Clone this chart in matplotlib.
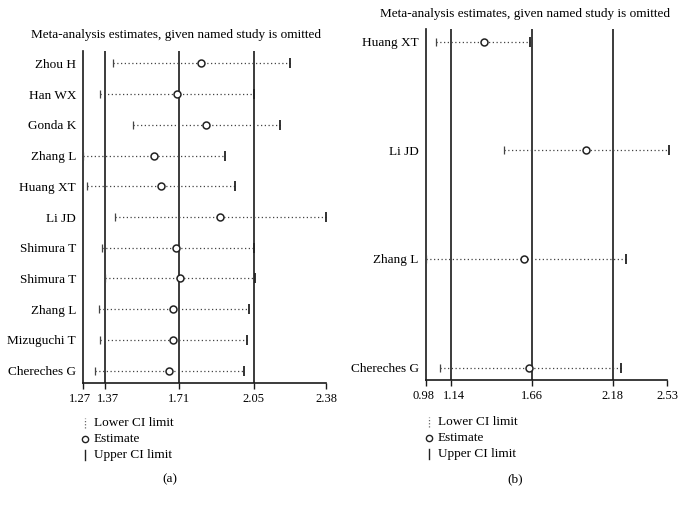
import matplotlib
matplotlib.use("Agg")
import matplotlib.pyplot as plt
from matplotlib.lines import Line2D
from matplotlib.transforms import ScaledTranslation

plt.rcParams['font.family'] = ['Liberation Serif', 'DejaVu Serif']

# ---- Panel (a) data ----
studies_a = ["Zhou H", "Han WX", "Gonda K", "Zhang L", "Huang XT", "Li JD",
             "Shimura T", "Shimura T", "Zhang L", "Mizuguchi T", "Chereches G"]
lower_a = [1.407, 1.346, 1.497, 1.270, 1.288, 1.415, 1.355, 1.372, 1.343, 1.349, 1.325]
est_a = [1.808, 1.698, 1.832, 1.594, 1.625, 1.894, 1.695, 1.713, 1.680, 1.681, 1.663]
upper_a = [2.214, 2.051, 2.170, 1.920, 1.966, 2.381, 2.051, 2.057, 2.030, 2.018, 2.004]
ticks_a = [1.27, 1.37, 1.71, 2.05, 2.38]
ref_a = [1.37, 1.71, 2.05]

# ---- Panel (b) data ----
studies_b = ["Huang XT", "Li JD", "Zhang L", "Chereches G"]
lower_b = [1.048, 1.484, 0.980, 1.070]
est_b = [1.352, 2.010, 1.609, 1.641]
upper_b = [1.651, 2.541, 2.263, 2.235]
ticks_b = [0.98, 1.14, 1.66, 2.18, 2.53]
ref_b = [1.14, 1.66, 2.18]

title = "Meta-analysis estimates, given named study is omitted"
FS = 9.5
TFS = 9.0
LC = '#1a1a1a'

W, H = 686, 507
fig = plt.figure(figsize=(W / 100, H / 100), dpi=100)


def px_axes(x0, y0, x1, y1):
    return fig.add_axes([x0 / W, 1 - y1 / H, (x1 - x0) / W, (y1 - y0) / H])


def draw_panel(ax, studies, lower, est, upper, ticks, refs, pad, shifts):
    n = len(studies)
    ys = list(range(n))
    for y, lo, e, up in zip(ys, lower, est, upper):
        ax.plot([lo, up], [y, y], linestyle=(0, (1, 2)), color='#444444', lw=0.9,
                clip_on=False, zorder=2)
        ax.plot([lo], [y], marker='|', color='#444444', ms=6, mew=0.9,
                clip_on=False, zorder=3)
        ax.plot([up], [y], marker='|', color='#222222', ms=6.5, mew=1.3,
                clip_on=False, zorder=3)
        ax.plot([e], [y], marker='o', mfc='white', mec='#222222', ms=5, mew=1.1,
                clip_on=False, zorder=4)
    for r in refs:
        ax.axvline(r, color=LC, lw=1.2, zorder=1)
    ax.set_xlim(ticks[0], ticks[-1])
    ax.set_ylim(n - 1 + pad, -pad)
    ax.set_xticks(ticks)
    ax.set_xticklabels([f"{t:.2f}" for t in ticks], fontsize=TFS)
    ax.set_yticks(ys)
    ax.set_yticklabels(studies, fontsize=FS)
    ax.tick_params(axis='y', length=0, pad=5)
    ax.tick_params(axis='x', length=4, width=1.0, color=LC, pad=3)
    for s in ['top', 'right']:
        ax.spines[s].set_visible(False)
    for s in ['left', 'bottom']:
        ax.spines[s].set_color(LC)
        ax.spines[s].set_linewidth(1.2)
    ax.set_facecolor('none')
    for lab, dx in zip(ax.get_xticklabels(), shifts):
        lab.set_transform(lab.get_transform() + ScaledTranslation(dx / 100, 0, fig.dpi_scale_trans))


ax_a = px_axes(83, 51, 326, 383)
draw_panel(ax_a, studies_a, lower_a, est_a, upper_a, ticks_a, ref_a, 0.40, [-3, 3.5, 0, 0, 0])
ax_b = px_axes(425.7, 29.3, 667.3, 380)
draw_panel(ax_b, studies_b, lower_b, est_b, upper_b, ticks_b, ref_b, 0.115, [-2.5, 3, 0, 0, 0])

fig.text(176 / W, 1 - 35 / H, title, ha='center', va='center', fontsize=FS)
fig.text(525 / W, 1 - 13.5 / H, title, ha='center', va='center', fontsize=FS)


def legend(xm, xt, ys):
    labels = ["Lower CI limit", "Estimate", "Upper CI limit"]
    y0, y1, y2 = [1 - y / H for y in ys]
    fig.add_artist(Line2D([xm / W, xm / W], [y0 - 5 / H, y0 + 5 / H], transform=fig.transFigure,
                          linestyle=(0, (1, 1.5)), color='#666666', lw=0.9))
    fig.add_artist(Line2D([xm / W], [y1], transform=fig.transFigure, marker='o',
                          mfc='white', mec='#222222', ms=4.5, mew=1.0, linestyle='none'))
    fig.add_artist(Line2D([xm / W, xm / W], [y2 - 5 / H, y2 + 5 / H], transform=fig.transFigure,
                          color='#222222', lw=1.0))
    for lab, yy in zip(labels, [y0, y1, y2]):
        fig.text(xt / W, yy, lab, ha='left', va='center', fontsize=FS)


legend(85, 93.5, [422.7, 439, 455])
legend(429, 437.5, [421.7, 437.7, 454.3])

fig.text(170 / W, 1 - 479 / H, "(a)", ha='center', va='center', fontsize=FS)
fig.text(515 / W, 1 - 479 / H, "(b)", ha='center', va='center', fontsize=FS)

fig.savefig("out.png", dpi=100)
